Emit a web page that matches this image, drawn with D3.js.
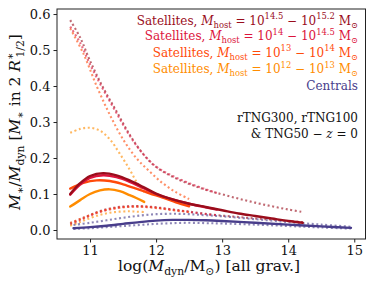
<!DOCTYPE html>
<html><head><meta charset="utf-8">
<script src="https://cdn.jsdelivr.net/npm/d3@7"></script>
<style>body{margin:0;background:#fff}svg{display:block}text{font-family:"DejaVu Serif",serif}</style>
</head><body><svg id="c" width="374" height="285"></svg>
<script>
// ---- data ----
const xTicks = [11, 12, 13, 14, 15];
const yTicks = [0.0, 0.1, 0.2, 0.3, 0.4, 0.5, 0.6];
const yTickLabels = ["0.0", "0.1", "0.2", "0.3", "0.4", "0.5", "0.6"];

const xDarkRed = [10.7,10.85,11.0,11.2,11.4,11.6,11.8,12.0,12.25,12.5,12.75,13.0,13.25,13.5,13.75,14.0,14.22];
const medDarkRed = [0.100,0.130,0.150,0.158,0.152,0.138,0.120,0.101,0.085,0.073,0.064,0.055,0.046,0.039,0.032,0.025,0.020];
const hiDarkRed = [0.583,0.535,0.470,0.395,0.330,0.265,0.212,0.175,0.148,0.128,0.112,0.099,0.087,0.076,0.066,0.057,0.050];
const loDarkRed = [0.018,0.030,0.042,0.055,0.063,0.066,0.066,0.063,0.057,0.051,0.045,0.040,0.036,0.032,0.029,0.025,0.022];

const xCrimson = [10.7,10.85,11.0,11.2,11.4,11.6,11.8,12.0,12.25,12.5,12.75,12.92];
const medCrimson = [0.098,0.126,0.145,0.152,0.147,0.134,0.117,0.100,0.085,0.073,0.063,0.057];
const hiCrimson = [0.565,0.520,0.460,0.390,0.325,0.262,0.212,0.176,0.150,0.130,0.113,0.103];
const loCrimson = [0.015,0.027,0.040,0.053,0.061,0.065,0.065,0.062,0.056,0.050,0.044,0.041];

const xOrangeRed = [10.7,10.9,11.1,11.3,11.5,11.7,11.9,12.1,12.3,12.5];
const medOrangeRed = [0.115,0.131,0.138,0.136,0.127,0.115,0.102,0.090,0.077,0.066];
const hiOrangeRed = [0.560,0.490,0.400,0.320,0.252,0.200,0.163,0.130,0.105,0.086];
const loOrangeRed = [0.020,0.034,0.048,0.058,0.063,0.065,0.063,0.059,0.054,0.050];

const xOrange = [10.7,10.85,11.0,11.15,11.3,11.45,11.6,11.7,11.82];
const medOrange = [0.065,0.083,0.100,0.110,0.113,0.108,0.097,0.089,0.078];
const hiOrange = [0.270,0.281,0.284,0.276,0.252,0.212,0.168,0.135,0.105];
const loOrange = [0.012,0.022,0.033,0.042,0.048,0.051,0.052,0.051,0.050];

const xCentrals = [10.75,11.0,11.25,11.5,11.75,12.0,12.25,12.5,12.75,13.0,13.5,14.0,14.5,14.95];
const medCentrals = [0.005,0.008,0.012,0.017,0.022,0.026,0.028,0.028,0.027,0.025,0.020,0.015,0.010,0.006];
const hiCentrals = [0.014,0.020,0.027,0.034,0.040,0.044,0.045,0.044,0.041,0.038,0.030,0.022,0.015,0.009];
const loCentrals = [0.003,0.005,0.008,0.011,0.014,0.017,0.019,0.020,0.019,0.018,0.015,0.011,0.007,0.004];

const seriesColors = ["#9a0d1c", "#dc143c", "#ff4a0a", "#ff8c00", "#483d8b"];

// ---- layout ----
const svg = d3.select("#c");
const L = 57, R = 365.5, T = 9, B = 239;
const x = d3.scaleLinear().domain([10.5, 15.17]).range([L, R]);
const y = d3.scaleLinear().domain([-0.025, 0.614]).range([B, T]);

const series = [
  {xs: xDarkRed, med: medDarkRed, hi: hiDarkRed, lo: loDarkRed, c: seriesColors[0]},
  {xs: xCrimson, med: medCrimson, hi: hiCrimson, lo: loCrimson, c: seriesColors[1]},
  {xs: xOrangeRed, med: medOrangeRed, hi: hiOrangeRed, lo: loOrangeRed, c: seriesColors[2]},
  {xs: xOrange, med: medOrange, hi: hiOrange, lo: loOrange, c: seriesColors[3]},
  {xs: xCentrals, med: medCentrals, hi: hiCentrals, lo: loCentrals, c: seriesColors[4]}
];

const line = d3.line().x(d => x(d[0])).y(d => y(d[1])).curve(d3.curveCatmullRom.alpha(0.5));
const g = svg.append("g");
series.forEach(s => {
  [s.hi, s.lo].forEach(arr => {
    g.append("path").attr("d", line(s.xs.map((v, i) => [v, arr[i]])))
      .attr("fill", "none").attr("stroke", s.c).attr("stroke-width", 2.1)
      .attr("stroke-dasharray", "2,2.6").attr("opacity", 0.62);
  });
});
[4, 3, 2, 1, 0].forEach(k => {
  const s = series[k];
  g.append("path").attr("d", line(s.xs.map((v, i) => [v, s.med[i]])))
    .attr("fill", "none").attr("stroke", s.c).attr("stroke-width", 2.4).attr("stroke-linecap", "round");
});

// frame
svg.append("rect").attr("x", L).attr("y", T).attr("width", R - L).attr("height", B - T)
  .attr("fill", "none").attr("stroke", "#222").attr("stroke-width", 1);

// axes
const xAxis = svg.append("g").attr("transform", `translate(0,${B})`)
  .call(d3.axisBottom(x).tickValues(xTicks).tickFormat(d3.format("d")).tickSize(3.5).tickPadding(3));
const yAxis = svg.append("g").attr("transform", `translate(${L},0)`)
  .call(d3.axisLeft(y).tickValues(yTicks).tickFormat((d, i) => yTickLabels[i]).tickSize(3.5).tickPadding(3));
[xAxis, yAxis].forEach(a => {
  a.select(".domain").remove();
  a.selectAll("line").attr("stroke", "#222");
  a.selectAll("text").attr("font-family", "DejaVu Serif").attr("font-size", 13).attr("fill", "#111");
});

function rich(sel, parts, size) {
  let cur = 0;
  parts.forEach(p => {
    const shift = p.sub ? -0.25 * size : (p.sup ? 0.42 * size : 0);
    const ts = sel.append("tspan").text(p.t);
    ts.attr("dy", (cur - shift));
    if (p.dx) ts.attr("dx", p.dx);
    cur = shift;
    ts.attr("font-size", (p.sub || p.sup) ? size * 0.7 : size);
    if (p.it) ts.attr("font-style", "italic");
  });
}

const legendX = 358;
const legendRows = [
  {c: seriesColors[0], y: 24.5, lo: "14.5", hi: "15.2"},
  {c: seriesColors[1], y: 40, lo: "14", hi: "14.5"},
  {c: seriesColors[2], y: 56.5, lo: "13", hi: "14"},
  {c: seriesColors[3], y: 73, lo: "12", hi: "13"}
];
const fs = 12;
legendRows.forEach(r => {
  const t = svg.append("text").attr("x", legendX).attr("y", r.y).attr("text-anchor", "end").attr("fill", r.c).attr("font-size", fs);
  rich(t, [
    {t: "Satellites, "}, {t: "M", it: true}, {t: "host", sub: true}, {t: " = 10"}, {t: r.lo, sup: true},
    {t: " − 10"}, {t: r.hi, sup: true}, {t: " M"}, {t: "⊙", sub: true}
  ], fs);
});
svg.append("text").attr("x", legendX).attr("y", 90).attr("text-anchor", "end").attr("fill", seriesColors[4])
  .attr("font-size", fs).text("Centrals");
svg.append("text").attr("x", legendX).attr("y", 122).attr("text-anchor", "end").attr("fill", "#111")
  .attr("font-size", fs).text("rTNG300, rTNG100");
const t2 = svg.append("text").attr("x", legendX).attr("y", 138).attr("text-anchor", "end").attr("fill", "#111").attr("font-size", fs);
rich(t2, [{t: "& TNG50 − "}, {t: "z", it: true}, {t: " = 0"}], fs);

const xl = svg.append("text").attr("x", 209).attr("y", 271).attr("text-anchor", "middle").attr("fill", "#111").attr("font-size", 15.5);
rich(xl, [{t: "log("}, {t: "M", it: true}, {t: "dyn", sub: true}, {t: "/M"}, {t: "⊙", sub: true}, {t: ") [all grav.]"}], 15.5);

const yl = svg.append("text").attr("transform", `translate(20,${(T + B) / 2 - 2}) rotate(-90)`).attr("text-anchor", "middle").attr("fill", "#111").attr("font-size", 15.5);
rich(yl, [{t: "M", it: true}, {t: "∗", sub: true}, {t: "/"}, {t: "M", it: true}, {t: "dyn", sub: true}, {t: " ["},
  {t: "M", it: true}, {t: "∗", sub: true}, {t: " in 2 "}, {t: "R", it: true}, {t: "∗", sup: true}, {t: "1/2", sub: true, dx: -5}, {t: "]"}], 15.5);
</script></body></html>
